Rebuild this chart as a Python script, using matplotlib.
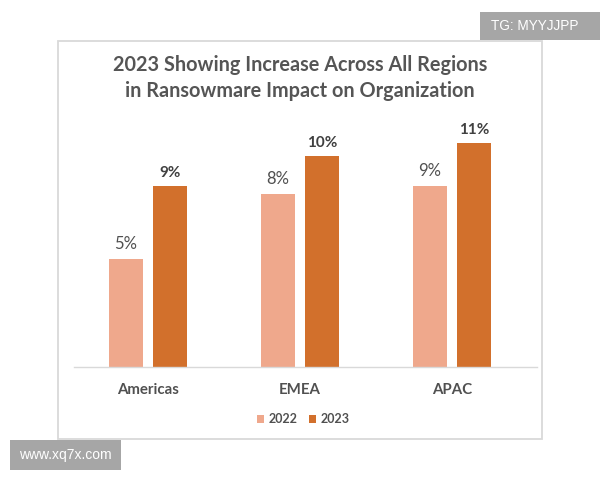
import matplotlib
matplotlib.use("Agg")
import matplotlib.pyplot as plt
from matplotlib.patches import Rectangle

regions = ["Americas", "EMEA", "APAC"]
values_2022 = [5.4, 8.65, 9.05]
values_2023 = [9.05, 10.55, 11.2]
labels_2022 = ["5%", "8%", "9%"]
labels_2023 = ["9%", "10%", "11%"]
title = "2023 Showing Increase Across All Regions\nin Ransowmare Impact on Organization"

plt.rcParams['font.family'] = ['Lato', 'DejaVu Sans']
W, H = 600, 480
fig = plt.figure(figsize=(6, 4.8), dpi=100, facecolor="white")

def px(x0, y0, x1, y1):
    return [x0 / W, 1 - y1 / H, (x1 - x0) / W, (y1 - y0) / H]

# chart frame
fig.add_artist(Rectangle((58 / W, 1 - 439 / H), 484 / W, 398 / H, transform=fig.transFigure,
                         facecolor="white", edgecolor="#d9d9d9", linewidth=1.3, zorder=-5))

ax = fig.add_axes(px(74, 107, 537, 367))
ax.patch.set_alpha(0)
spacing = 152.0
ax.set_xlim((74 - 148) / spacing, (537 - 148) / spacing)
ax.set_ylim(0, 13)
width = 34.5 / spacing
off = 22 / spacing
xs = list(range(len(regions)))
c22, c23 = "#efa88c", "#d2702c"
b1 = ax.bar([x - off for x in xs], values_2022, width, color=c22, label="2022")
b2 = ax.bar([x + off for x in xs], values_2023, width, color=c23, label="2023")
for x, v, l in zip(xs, values_2022, labels_2022):
    ax.annotate(l, (x - off, v), xytext=(0, 4.8), textcoords="offset points", ha="center", va="bottom",
                fontsize=12, color="#505050")
for x, v, l in zip(xs, values_2023, labels_2023):
    ax.annotate(l, (x + off, v), xytext=(0, 4.5), textcoords="offset points", ha="center", va="bottom",
                fontsize=11, color="#404040", fontweight="bold")
for s in ["top", "left", "right"]:
    ax.spines[s].set_visible(False)
ax.spines["bottom"].set_color("#d9d9d9")
ax.spines["bottom"].set_linewidth(1)
ax.set_yticks([])
ax.set_xticks(xs)
ax.set_xticklabels(regions, fontsize=10.8, color="#505050", fontweight="bold")
ax.tick_params(axis="x", length=0, pad=11.5)

fig.text(300 / W, 1 - 78 / H, title, ha="center", va="center", fontsize=14.3, fontweight="bold",
         color="#555555", linespacing=1.42)

ax.legend(handles=[b1, b2], loc="center", bbox_to_anchor=(303 / W, 1 - 419 / H),
          bbox_transform=fig.transFigure, ncol=2, frameon=False,
          labelcolor="#505050", handlelength=0.6, handleheight=0.6, handletextpad=0.35,
          columnspacing=0.9, prop={'size': 9, 'weight': 'bold'})

# watermarks
fig.add_artist(Rectangle((480 / W, 1 - 40 / H), 120 / W, 28 / H, transform=fig.transFigure,
                         facecolor="#a6a6a6", edgecolor="none"))
fig.text(535 / W, 1 - 26.5 / H, "TG: MYYJJPP", ha="center", va="center", fontsize=9.8, color="white",
         family=["Liberation Sans"])
fig.add_artist(Rectangle((10 / W, 1 - 470 / H), 111 / W, 30 / H, transform=fig.transFigure,
                         facecolor="#a6a6a6", edgecolor="none"))
fig.text(65.5 / W, 1 - 455.5 / H, "www.xq7x.com", ha="center", va="center", fontsize=10, color="white",
         family=["Liberation Sans"])

fig.savefig("out.png", dpi=100)
